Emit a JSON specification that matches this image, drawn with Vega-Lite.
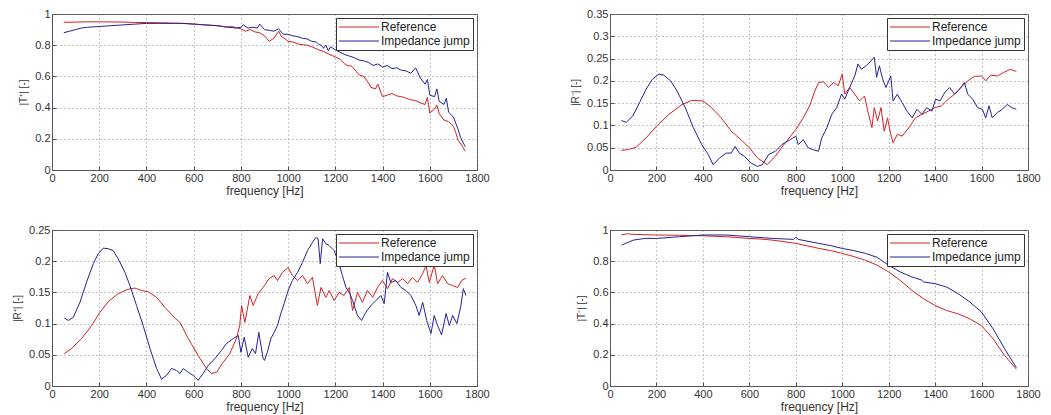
{
  "$schema": "https://vega.github.io/schema/vega-lite/v6.json",
  "background": "white",
  "padding": {"left": 12, "top": 7, "right": 5, "bottom": 5},
  "bounds": "flush",
  "columns": 2,
  "spacing": {"row": 60, "column": 133},
  "resolve": {"scale": {"color": "independent", "y": "independent", "x": "independent"}, "legend": {"color": "independent"}, "axis": {"x": "independent", "y": "independent"}},
  "datasets": {
    "tl": [
      {"f":50,"v":0.947,"s":"Reference"},{"f":100,"v":0.948,"s":"Reference"},{"f":150,"v":0.95,"s":"Reference"},{"f":200,"v":0.95,"s":"Reference"},{"f":250,"v":0.949,"s":"Reference"},{"f":300,"v":0.948,"s":"Reference"},{"f":350,"v":0.946,"s":"Reference"},{"f":400,"v":0.945,"s":"Reference"},{"f":450,"v":0.944,"s":"Reference"},{"f":500,"v":0.942,"s":"Reference"},{"f":550,"v":0.94,"s":"Reference"},{"f":600,"v":0.936,"s":"Reference"},{"f":650,"v":0.93,"s":"Reference"},{"f":700,"v":0.925,"s":"Reference"},{"f":740,"v":0.915,"s":"Reference"},{"f":760,"v":0.92,"s":"Reference"},{"f":800,"v":0.905,"s":"Reference"},{"f":820,"v":0.89,"s":"Reference"},{"f":840,"v":0.9,"s":"Reference"},{"f":860,"v":0.885,"s":"Reference"},{"f":880,"v":0.88,"s":"Reference"},{"f":900,"v":0.86,"s":"Reference"},{"f":920,"v":0.825,"s":"Reference"},{"f":940,"v":0.845,"s":"Reference"},{"f":960,"v":0.89,"s":"Reference"},{"f":970,"v":0.86,"s":"Reference"},{"f":1000,"v":0.825,"s":"Reference"},{"f":1020,"v":0.82,"s":"Reference"},{"f":1050,"v":0.805,"s":"Reference"},{"f":1080,"v":0.8,"s":"Reference"},{"f":1100,"v":0.79,"s":"Reference"},{"f":1130,"v":0.77,"s":"Reference"},{"f":1150,"v":0.76,"s":"Reference"},{"f":1170,"v":0.745,"s":"Reference"},{"f":1200,"v":0.725,"s":"Reference"},{"f":1220,"v":0.71,"s":"Reference"},{"f":1240,"v":0.68,"s":"Reference"},{"f":1250,"v":0.67,"s":"Reference"},{"f":1270,"v":0.665,"s":"Reference"},{"f":1290,"v":0.63,"s":"Reference"},{"f":1300,"v":0.61,"s":"Reference"},{"f":1320,"v":0.6,"s":"Reference"},{"f":1340,"v":0.56,"s":"Reference"},{"f":1350,"v":0.53,"s":"Reference"},{"f":1370,"v":0.52,"s":"Reference"},{"f":1380,"v":0.55,"s":"Reference"},{"f":1400,"v":0.47,"s":"Reference"},{"f":1420,"v":0.48,"s":"Reference"},{"f":1440,"v":0.49,"s":"Reference"},{"f":1460,"v":0.475,"s":"Reference"},{"f":1480,"v":0.47,"s":"Reference"},{"f":1500,"v":0.46,"s":"Reference"},{"f":1520,"v":0.45,"s":"Reference"},{"f":1540,"v":0.445,"s":"Reference"},{"f":1560,"v":0.43,"s":"Reference"},{"f":1580,"v":0.42,"s":"Reference"},{"f":1590,"v":0.465,"s":"Reference"},{"f":1600,"v":0.365,"s":"Reference"},{"f":1620,"v":0.39,"s":"Reference"},{"f":1630,"v":0.415,"s":"Reference"},{"f":1640,"v":0.36,"s":"Reference"},{"f":1660,"v":0.32,"s":"Reference"},{"f":1680,"v":0.31,"s":"Reference"},{"f":1700,"v":0.28,"s":"Reference"},{"f":1710,"v":0.24,"s":"Reference"},{"f":1720,"v":0.19,"s":"Reference"},{"f":1735,"v":0.16,"s":"Reference"},{"f":1750,"v":0.12,"s":"Reference"},
      {"f":50,"v":0.88,"s":"Impedance jump"},{"f":75,"v":0.89,"s":"Impedance jump"},{"f":100,"v":0.9,"s":"Impedance jump"},{"f":125,"v":0.91,"s":"Impedance jump"},{"f":150,"v":0.915,"s":"Impedance jump"},{"f":200,"v":0.92,"s":"Impedance jump"},{"f":250,"v":0.925,"s":"Impedance jump"},{"f":300,"v":0.93,"s":"Impedance jump"},{"f":350,"v":0.935,"s":"Impedance jump"},{"f":400,"v":0.94,"s":"Impedance jump"},{"f":450,"v":0.94,"s":"Impedance jump"},{"f":500,"v":0.94,"s":"Impedance jump"},{"f":550,"v":0.94,"s":"Impedance jump"},{"f":600,"v":0.935,"s":"Impedance jump"},{"f":650,"v":0.93,"s":"Impedance jump"},{"f":700,"v":0.925,"s":"Impedance jump"},{"f":750,"v":0.915,"s":"Impedance jump"},{"f":780,"v":0.91,"s":"Impedance jump"},{"f":800,"v":0.915,"s":"Impedance jump"},{"f":810,"v":0.93,"s":"Impedance jump"},{"f":830,"v":0.91,"s":"Impedance jump"},{"f":850,"v":0.915,"s":"Impedance jump"},{"f":870,"v":0.91,"s":"Impedance jump"},{"f":880,"v":0.935,"s":"Impedance jump"},{"f":900,"v":0.9,"s":"Impedance jump"},{"f":920,"v":0.895,"s":"Impedance jump"},{"f":940,"v":0.89,"s":"Impedance jump"},{"f":960,"v":0.905,"s":"Impedance jump"},{"f":980,"v":0.87,"s":"Impedance jump"},{"f":1000,"v":0.87,"s":"Impedance jump"},{"f":1020,"v":0.86,"s":"Impedance jump"},{"f":1040,"v":0.855,"s":"Impedance jump"},{"f":1060,"v":0.845,"s":"Impedance jump"},{"f":1080,"v":0.84,"s":"Impedance jump"},{"f":1100,"v":0.825,"s":"Impedance jump"},{"f":1120,"v":0.82,"s":"Impedance jump"},{"f":1130,"v":0.805,"s":"Impedance jump"},{"f":1140,"v":0.8,"s":"Impedance jump"},{"f":1150,"v":0.78,"s":"Impedance jump"},{"f":1160,"v":0.8,"s":"Impedance jump"},{"f":1170,"v":0.765,"s":"Impedance jump"},{"f":1180,"v":0.79,"s":"Impedance jump"},{"f":1200,"v":0.77,"s":"Impedance jump"},{"f":1220,"v":0.755,"s":"Impedance jump"},{"f":1240,"v":0.74,"s":"Impedance jump"},{"f":1260,"v":0.73,"s":"Impedance jump"},{"f":1280,"v":0.72,"s":"Impedance jump"},{"f":1300,"v":0.705,"s":"Impedance jump"},{"f":1320,"v":0.7,"s":"Impedance jump"},{"f":1340,"v":0.69,"s":"Impedance jump"},{"f":1360,"v":0.67,"s":"Impedance jump"},{"f":1380,"v":0.68,"s":"Impedance jump"},{"f":1400,"v":0.66,"s":"Impedance jump"},{"f":1420,"v":0.67,"s":"Impedance jump"},{"f":1440,"v":0.65,"s":"Impedance jump"},{"f":1460,"v":0.655,"s":"Impedance jump"},{"f":1480,"v":0.64,"s":"Impedance jump"},{"f":1500,"v":0.635,"s":"Impedance jump"},{"f":1520,"v":0.62,"s":"Impedance jump"},{"f":1540,"v":0.655,"s":"Impedance jump"},{"f":1560,"v":0.59,"s":"Impedance jump"},{"f":1580,"v":0.55,"s":"Impedance jump"},{"f":1590,"v":0.58,"s":"Impedance jump"},{"f":1600,"v":0.48,"s":"Impedance jump"},{"f":1620,"v":0.47,"s":"Impedance jump"},{"f":1630,"v":0.52,"s":"Impedance jump"},{"f":1640,"v":0.44,"s":"Impedance jump"},{"f":1660,"v":0.42,"s":"Impedance jump"},{"f":1670,"v":0.46,"s":"Impedance jump"},{"f":1680,"v":0.37,"s":"Impedance jump"},{"f":1700,"v":0.34,"s":"Impedance jump"},{"f":1720,"v":0.26,"s":"Impedance jump"},{"f":1730,"v":0.21,"s":"Impedance jump"},{"f":1750,"v":0.15,"s":"Impedance jump"}
    ],
    "tr": [
      {"f":49,"v":0.044,"s":"Reference"},{"f":80,"v":0.046,"s":"Reference"},{"f":112,"v":0.051,"s":"Reference"},{"f":155,"v":0.072,"s":"Reference"},{"f":200,"v":0.098,"s":"Reference"},{"f":254,"v":0.125,"s":"Reference"},{"f":310,"v":0.147,"s":"Reference"},{"f":352,"v":0.156,"s":"Reference"},{"f":400,"v":0.155,"s":"Reference"},{"f":437,"v":0.14,"s":"Reference"},{"f":479,"v":0.117,"s":"Reference"},{"f":522,"v":0.087,"s":"Reference"},{"f":564,"v":0.068,"s":"Reference"},{"f":600,"v":0.05,"s":"Reference"},{"f":635,"v":0.027,"s":"Reference"},{"f":677,"v":0.012,"s":"Reference"},{"f":712,"v":0.031,"s":"Reference"},{"f":755,"v":0.061,"s":"Reference"},{"f":800,"v":0.091,"s":"Reference"},{"f":832,"v":0.117,"s":"Reference"},{"f":860,"v":0.144,"s":"Reference"},{"f":882,"v":0.177,"s":"Reference"},{"f":898,"v":0.196,"s":"Reference"},{"f":920,"v":0.198,"s":"Reference"},{"f":941,"v":0.185,"s":"Reference"},{"f":962,"v":0.196,"s":"Reference"},{"f":983,"v":0.189,"s":"Reference"},{"f":1000,"v":0.215,"s":"Reference"},{"f":1011,"v":0.17,"s":"Reference"},{"f":1032,"v":0.185,"s":"Reference"},{"f":1054,"v":0.17,"s":"Reference"},{"f":1075,"v":0.155,"s":"Reference"},{"f":1096,"v":0.166,"s":"Reference"},{"f":1110,"v":0.132,"s":"Reference"},{"f":1128,"v":0.095,"s":"Reference"},{"f":1138,"v":0.14,"s":"Reference"},{"f":1152,"v":0.11,"s":"Reference"},{"f":1167,"v":0.14,"s":"Reference"},{"f":1181,"v":0.087,"s":"Reference"},{"f":1195,"v":0.117,"s":"Reference"},{"f":1209,"v":0.08,"s":"Reference"},{"f":1219,"v":0.061,"s":"Reference"},{"f":1237,"v":0.08,"s":"Reference"},{"f":1258,"v":0.076,"s":"Reference"},{"f":1287,"v":0.095,"s":"Reference"},{"f":1315,"v":0.117,"s":"Reference"},{"f":1343,"v":0.125,"s":"Reference"},{"f":1371,"v":0.132,"s":"Reference"},{"f":1400,"v":0.14,"s":"Reference"},{"f":1428,"v":0.144,"s":"Reference"},{"f":1456,"v":0.159,"s":"Reference"},{"f":1484,"v":0.17,"s":"Reference"},{"f":1512,"v":0.186,"s":"Reference"},{"f":1541,"v":0.2,"s":"Reference"},{"f":1569,"v":0.21,"s":"Reference"},{"f":1600,"v":0.211,"s":"Reference"},{"f":1618,"v":0.2,"s":"Reference"},{"f":1639,"v":0.213,"s":"Reference"},{"f":1668,"v":0.211,"s":"Reference"},{"f":1696,"v":0.219,"s":"Reference"},{"f":1724,"v":0.226,"s":"Reference"},{"f":1750,"v":0.221,"s":"Reference"},
      {"f":49,"v":0.111,"s":"Impedance jump"},{"f":70,"v":0.107,"s":"Impedance jump"},{"f":98,"v":0.121,"s":"Impedance jump"},{"f":127,"v":0.151,"s":"Impedance jump"},{"f":155,"v":0.181,"s":"Impedance jump"},{"f":183,"v":0.204,"s":"Impedance jump"},{"f":211,"v":0.215,"s":"Impedance jump"},{"f":232,"v":0.213,"s":"Impedance jump"},{"f":261,"v":0.2,"s":"Impedance jump"},{"f":289,"v":0.177,"s":"Impedance jump"},{"f":324,"v":0.14,"s":"Impedance jump"},{"f":359,"v":0.095,"s":"Impedance jump"},{"f":395,"v":0.057,"s":"Impedance jump"},{"f":423,"v":0.035,"s":"Impedance jump"},{"f":444,"v":0.012,"s":"Impedance jump"},{"f":472,"v":0.027,"s":"Impedance jump"},{"f":501,"v":0.038,"s":"Impedance jump"},{"f":522,"v":0.038,"s":"Impedance jump"},{"f":539,"v":0.053,"s":"Impedance jump"},{"f":557,"v":0.038,"s":"Impedance jump"},{"f":578,"v":0.031,"s":"Impedance jump"},{"f":606,"v":0.016,"s":"Impedance jump"},{"f":635,"v":0.008,"s":"Impedance jump"},{"f":656,"v":0.012,"s":"Impedance jump"},{"f":684,"v":0.035,"s":"Impedance jump"},{"f":712,"v":0.042,"s":"Impedance jump"},{"f":740,"v":0.057,"s":"Impedance jump"},{"f":776,"v":0.068,"s":"Impedance jump"},{"f":800,"v":0.076,"s":"Impedance jump"},{"f":811,"v":0.057,"s":"Impedance jump"},{"f":832,"v":0.068,"s":"Impedance jump"},{"f":853,"v":0.05,"s":"Impedance jump"},{"f":877,"v":0.045,"s":"Impedance jump"},{"f":898,"v":0.042,"s":"Impedance jump"},{"f":912,"v":0.072,"s":"Impedance jump"},{"f":934,"v":0.095,"s":"Impedance jump"},{"f":955,"v":0.125,"s":"Impedance jump"},{"f":976,"v":0.14,"s":"Impedance jump"},{"f":997,"v":0.17,"s":"Impedance jump"},{"f":1011,"v":0.159,"s":"Impedance jump"},{"f":1032,"v":0.185,"s":"Impedance jump"},{"f":1054,"v":0.211,"s":"Impedance jump"},{"f":1068,"v":0.238,"s":"Impedance jump"},{"f":1082,"v":0.226,"s":"Impedance jump"},{"f":1103,"v":0.234,"s":"Impedance jump"},{"f":1124,"v":0.245,"s":"Impedance jump"},{"f":1138,"v":0.253,"s":"Impedance jump"},{"f":1148,"v":0.208,"s":"Impedance jump"},{"f":1160,"v":0.234,"s":"Impedance jump"},{"f":1174,"v":0.204,"s":"Impedance jump"},{"f":1188,"v":0.185,"s":"Impedance jump"},{"f":1209,"v":0.211,"s":"Impedance jump"},{"f":1219,"v":0.155,"s":"Impedance jump"},{"f":1237,"v":0.17,"s":"Impedance jump"},{"f":1258,"v":0.151,"s":"Impedance jump"},{"f":1279,"v":0.132,"s":"Impedance jump"},{"f":1301,"v":0.117,"s":"Impedance jump"},{"f":1322,"v":0.136,"s":"Impedance jump"},{"f":1343,"v":0.125,"s":"Impedance jump"},{"f":1364,"v":0.14,"s":"Impedance jump"},{"f":1386,"v":0.132,"s":"Impedance jump"},{"f":1402,"v":0.159,"s":"Impedance jump"},{"f":1421,"v":0.155,"s":"Impedance jump"},{"f":1442,"v":0.174,"s":"Impedance jump"},{"f":1463,"v":0.185,"s":"Impedance jump"},{"f":1484,"v":0.17,"s":"Impedance jump"},{"f":1505,"v":0.181,"s":"Impedance jump"},{"f":1526,"v":0.196,"s":"Impedance jump"},{"f":1541,"v":0.17,"s":"Impedance jump"},{"f":1562,"v":0.159,"s":"Impedance jump"},{"f":1583,"v":0.14,"s":"Impedance jump"},{"f":1604,"v":0.136,"s":"Impedance jump"},{"f":1618,"v":0.117,"s":"Impedance jump"},{"f":1632,"v":0.144,"s":"Impedance jump"},{"f":1646,"v":0.117,"s":"Impedance jump"},{"f":1668,"v":0.129,"s":"Impedance jump"},{"f":1689,"v":0.136,"s":"Impedance jump"},{"f":1710,"v":0.147,"s":"Impedance jump"},{"f":1731,"v":0.14,"s":"Impedance jump"},{"f":1750,"v":0.136,"s":"Impedance jump"}
    ],
    "bl": [
      {"f":52,"v":0.052,"s":"Reference"},{"f":83,"v":0.06,"s":"Reference"},{"f":125,"v":0.076,"s":"Reference"},{"f":168,"v":0.097,"s":"Reference"},{"f":203,"v":0.118,"s":"Reference"},{"f":238,"v":0.135,"s":"Reference"},{"f":280,"v":0.148,"s":"Reference"},{"f":323,"v":0.155,"s":"Reference"},{"f":351,"v":0.157,"s":"Reference"},{"f":379,"v":0.153,"s":"Reference"},{"f":407,"v":0.151,"s":"Reference"},{"f":443,"v":0.142,"s":"Reference"},{"f":478,"v":0.126,"s":"Reference"},{"f":520,"v":0.109,"s":"Reference"},{"f":542,"v":0.102,"s":"Reference"},{"f":577,"v":0.076,"s":"Reference"},{"f":619,"v":0.049,"s":"Reference"},{"f":654,"v":0.028,"s":"Reference"},{"f":676,"v":0.02,"s":"Reference"},{"f":697,"v":0.022,"s":"Reference"},{"f":725,"v":0.038,"s":"Reference"},{"f":753,"v":0.052,"s":"Reference"},{"f":781,"v":0.076,"s":"Reference"},{"f":795,"v":0.097,"s":"Reference"},{"f":803,"v":0.129,"s":"Reference"},{"f":817,"v":0.102,"s":"Reference"},{"f":838,"v":0.145,"s":"Reference"},{"f":852,"v":0.129,"s":"Reference"},{"f":873,"v":0.148,"s":"Reference"},{"f":894,"v":0.158,"s":"Reference"},{"f":919,"v":0.172,"s":"Reference"},{"f":941,"v":0.177,"s":"Reference"},{"f":955,"v":0.169,"s":"Reference"},{"f":976,"v":0.182,"s":"Reference"},{"f":1000,"v":0.19,"s":"Reference"},{"f":1018,"v":0.177,"s":"Reference"},{"f":1040,"v":0.169,"s":"Reference"},{"f":1061,"v":0.177,"s":"Reference"},{"f":1082,"v":0.164,"s":"Reference"},{"f":1103,"v":0.174,"s":"Reference"},{"f":1124,"v":0.129,"s":"Reference"},{"f":1139,"v":0.158,"s":"Reference"},{"f":1160,"v":0.142,"s":"Reference"},{"f":1174,"v":0.153,"s":"Reference"},{"f":1195,"v":0.137,"s":"Reference"},{"f":1216,"v":0.15,"s":"Reference"},{"f":1237,"v":0.145,"s":"Reference"},{"f":1259,"v":0.158,"s":"Reference"},{"f":1273,"v":0.121,"s":"Reference"},{"f":1294,"v":0.15,"s":"Reference"},{"f":1315,"v":0.134,"s":"Reference"},{"f":1336,"v":0.153,"s":"Reference"},{"f":1358,"v":0.142,"s":"Reference"},{"f":1379,"v":0.158,"s":"Reference"},{"f":1400,"v":0.169,"s":"Reference"},{"f":1421,"v":0.156,"s":"Reference"},{"f":1442,"v":0.172,"s":"Reference"},{"f":1464,"v":0.166,"s":"Reference"},{"f":1485,"v":0.172,"s":"Reference"},{"f":1506,"v":0.164,"s":"Reference"},{"f":1527,"v":0.174,"s":"Reference"},{"f":1548,"v":0.166,"s":"Reference"},{"f":1570,"v":0.18,"s":"Reference"},{"f":1584,"v":0.193,"s":"Reference"},{"f":1598,"v":0.166,"s":"Reference"},{"f":1619,"v":0.194,"s":"Reference"},{"f":1633,"v":0.164,"s":"Reference"},{"f":1654,"v":0.177,"s":"Reference"},{"f":1676,"v":0.164,"s":"Reference"},{"f":1697,"v":0.161,"s":"Reference"},{"f":1718,"v":0.158,"s":"Reference"},{"f":1735,"v":0.169,"s":"Reference"},{"f":1753,"v":0.173,"s":"Reference"},
      {"f":52,"v":0.109,"s":"Impedance jump"},{"f":69,"v":0.105,"s":"Impedance jump"},{"f":90,"v":0.11,"s":"Impedance jump"},{"f":118,"v":0.134,"s":"Impedance jump"},{"f":146,"v":0.166,"s":"Impedance jump"},{"f":175,"v":0.196,"s":"Impedance jump"},{"f":196,"v":0.212,"s":"Impedance jump"},{"f":217,"v":0.221,"s":"Impedance jump"},{"f":238,"v":0.22,"s":"Impedance jump"},{"f":259,"v":0.217,"s":"Impedance jump"},{"f":280,"v":0.204,"s":"Impedance jump"},{"f":309,"v":0.182,"s":"Impedance jump"},{"f":330,"v":0.161,"s":"Impedance jump"},{"f":358,"v":0.129,"s":"Impedance jump"},{"f":386,"v":0.097,"s":"Impedance jump"},{"f":415,"v":0.06,"s":"Impedance jump"},{"f":443,"v":0.028,"s":"Impedance jump"},{"f":464,"v":0.011,"s":"Impedance jump"},{"f":485,"v":0.017,"s":"Impedance jump"},{"f":506,"v":0.028,"s":"Impedance jump"},{"f":527,"v":0.025,"s":"Impedance jump"},{"f":542,"v":0.02,"s":"Impedance jump"},{"f":556,"v":0.028,"s":"Impedance jump"},{"f":577,"v":0.022,"s":"Impedance jump"},{"f":598,"v":0.017,"s":"Impedance jump"},{"f":619,"v":0.009,"s":"Impedance jump"},{"f":640,"v":0.02,"s":"Impedance jump"},{"f":662,"v":0.033,"s":"Impedance jump"},{"f":690,"v":0.044,"s":"Impedance jump"},{"f":718,"v":0.057,"s":"Impedance jump"},{"f":739,"v":0.068,"s":"Impedance jump"},{"f":767,"v":0.076,"s":"Impedance jump"},{"f":789,"v":0.081,"s":"Impedance jump"},{"f":800,"v":0.054,"s":"Impedance jump"},{"f":814,"v":0.078,"s":"Impedance jump"},{"f":831,"v":0.046,"s":"Impedance jump"},{"f":848,"v":0.06,"s":"Impedance jump"},{"f":862,"v":0.052,"s":"Impedance jump"},{"f":876,"v":0.086,"s":"Impedance jump"},{"f":894,"v":0.044,"s":"Impedance jump"},{"f":900,"v":0.041,"s":"Impedance jump"},{"f":912,"v":0.054,"s":"Impedance jump"},{"f":927,"v":0.076,"s":"Impedance jump"},{"f":941,"v":0.086,"s":"Impedance jump"},{"f":955,"v":0.097,"s":"Impedance jump"},{"f":969,"v":0.116,"s":"Impedance jump"},{"f":983,"v":0.132,"s":"Impedance jump"},{"f":1000,"v":0.153,"s":"Impedance jump"},{"f":1018,"v":0.169,"s":"Impedance jump"},{"f":1040,"v":0.182,"s":"Impedance jump"},{"f":1061,"v":0.198,"s":"Impedance jump"},{"f":1082,"v":0.217,"s":"Impedance jump"},{"f":1103,"v":0.23,"s":"Impedance jump"},{"f":1117,"v":0.238,"s":"Impedance jump"},{"f":1127,"v":0.236,"s":"Impedance jump"},{"f":1136,"v":0.196,"s":"Impedance jump"},{"f":1146,"v":0.236,"s":"Impedance jump"},{"f":1160,"v":0.228,"s":"Impedance jump"},{"f":1174,"v":0.225,"s":"Impedance jump"},{"f":1195,"v":0.217,"s":"Impedance jump"},{"f":1216,"v":0.196,"s":"Impedance jump"},{"f":1230,"v":0.177,"s":"Impedance jump"},{"f":1245,"v":0.158,"s":"Impedance jump"},{"f":1259,"v":0.15,"s":"Impedance jump"},{"f":1273,"v":0.137,"s":"Impedance jump"},{"f":1294,"v":0.113,"s":"Impedance jump"},{"f":1311,"v":0.105,"s":"Impedance jump"},{"f":1329,"v":0.118,"s":"Impedance jump"},{"f":1351,"v":0.129,"s":"Impedance jump"},{"f":1372,"v":0.137,"s":"Impedance jump"},{"f":1393,"v":0.145,"s":"Impedance jump"},{"f":1407,"v":0.132,"s":"Impedance jump"},{"f":1421,"v":0.182,"s":"Impedance jump"},{"f":1435,"v":0.166,"s":"Impedance jump"},{"f":1456,"v":0.169,"s":"Impedance jump"},{"f":1478,"v":0.158,"s":"Impedance jump"},{"f":1499,"v":0.153,"s":"Impedance jump"},{"f":1520,"v":0.145,"s":"Impedance jump"},{"f":1541,"v":0.129,"s":"Impedance jump"},{"f":1555,"v":0.113,"s":"Impedance jump"},{"f":1570,"v":0.134,"s":"Impedance jump"},{"f":1587,"v":0.105,"s":"Impedance jump"},{"f":1605,"v":0.084,"s":"Impedance jump"},{"f":1619,"v":0.113,"s":"Impedance jump"},{"f":1633,"v":0.097,"s":"Impedance jump"},{"f":1650,"v":0.082,"s":"Impedance jump"},{"f":1669,"v":0.116,"s":"Impedance jump"},{"f":1683,"v":0.097,"s":"Impedance jump"},{"f":1697,"v":0.113,"s":"Impedance jump"},{"f":1715,"v":0.1,"s":"Impedance jump"},{"f":1732,"v":0.129,"s":"Impedance jump"},{"f":1742,"v":0.156,"s":"Impedance jump"},{"f":1753,"v":0.145,"s":"Impedance jump"}
    ],
    "br": [
      {"f":48,"v":0.968,"s":"Reference"},{"f":75,"v":0.976,"s":"Reference"},{"f":100,"v":0.972,"s":"Reference"},{"f":200,"v":0.968,"s":"Reference"},{"f":300,"v":0.966,"s":"Reference"},{"f":400,"v":0.963,"s":"Reference"},{"f":500,"v":0.957,"s":"Reference"},{"f":600,"v":0.946,"s":"Reference"},{"f":650,"v":0.942,"s":"Reference"},{"f":700,"v":0.935,"s":"Reference"},{"f":750,"v":0.925,"s":"Reference"},{"f":800,"v":0.914,"s":"Reference"},{"f":850,"v":0.898,"s":"Reference"},{"f":900,"v":0.882,"s":"Reference"},{"f":950,"v":0.868,"s":"Reference"},{"f":1000,"v":0.85,"s":"Reference"},{"f":1050,"v":0.83,"s":"Reference"},{"f":1100,"v":0.806,"s":"Reference"},{"f":1150,"v":0.775,"s":"Reference"},{"f":1200,"v":0.731,"s":"Reference"},{"f":1250,"v":0.677,"s":"Reference"},{"f":1300,"v":0.613,"s":"Reference"},{"f":1350,"v":0.559,"s":"Reference"},{"f":1400,"v":0.516,"s":"Reference"},{"f":1450,"v":0.484,"s":"Reference"},{"f":1500,"v":0.462,"s":"Reference"},{"f":1550,"v":0.43,"s":"Reference"},{"f":1600,"v":0.387,"s":"Reference"},{"f":1650,"v":0.301,"s":"Reference"},{"f":1700,"v":0.194,"s":"Reference"},{"f":1750,"v":0.108,"s":"Reference"},
      {"f":50,"v":0.903,"s":"Impedance jump"},{"f":100,"v":0.935,"s":"Impedance jump"},{"f":150,"v":0.946,"s":"Impedance jump"},{"f":200,"v":0.946,"s":"Impedance jump"},{"f":300,"v":0.957,"s":"Impedance jump"},{"f":400,"v":0.968,"s":"Impedance jump"},{"f":500,"v":0.968,"s":"Impedance jump"},{"f":600,"v":0.957,"s":"Impedance jump"},{"f":700,"v":0.946,"s":"Impedance jump"},{"f":790,"v":0.94,"s":"Impedance jump"},{"f":800,"v":0.955,"s":"Impedance jump"},{"f":810,"v":0.94,"s":"Impedance jump"},{"f":900,"v":0.914,"s":"Impedance jump"},{"f":950,"v":0.9,"s":"Impedance jump"},{"f":1000,"v":0.882,"s":"Impedance jump"},{"f":1050,"v":0.868,"s":"Impedance jump"},{"f":1100,"v":0.85,"s":"Impedance jump"},{"f":1150,"v":0.825,"s":"Impedance jump"},{"f":1200,"v":0.774,"s":"Impedance jump"},{"f":1250,"v":0.731,"s":"Impedance jump"},{"f":1300,"v":0.699,"s":"Impedance jump"},{"f":1340,"v":0.68,"s":"Impedance jump"},{"f":1350,"v":0.667,"s":"Impedance jump"},{"f":1400,"v":0.656,"s":"Impedance jump"},{"f":1450,"v":0.634,"s":"Impedance jump"},{"f":1500,"v":0.591,"s":"Impedance jump"},{"f":1550,"v":0.538,"s":"Impedance jump"},{"f":1600,"v":0.473,"s":"Impedance jump"},{"f":1650,"v":0.366,"s":"Impedance jump"},{"f":1700,"v":0.237,"s":"Impedance jump"},{"f":1750,"v":0.118,"s":"Impedance jump"}
    ]
  },
  "concat": [
    {
      "width": 425, "height": 156,
      "data": {"name": "tl"},
      "mark": {"type": "line", "strokeWidth": 1},
      "encoding": {
        "x": {"field": "f", "type": "quantitative", "scale": {"domain": [0, 1800], "nice": false}, "axis": {"title": "frequency [Hz]", "values": [0,200,400,600,800,1000,1200,1400,1600,1800]}},
        "y": {"field": "v", "type": "quantitative", "scale": {"domain": [0, 1], "nice": false}, "axis": {"title": "|T⁺| [-]", "values": [0,0.2,0.4,0.6,0.8,1]}},
        "color": {"field": "s", "type": "nominal", "scale": {"domain": ["Reference", "Impedance jump"], "range": ["#d42222", "#22229a"]}, "legend": {"title": null}}
      }
    },
    {
      "width": 418, "height": 156,
      "data": {"name": "tr"},
      "mark": {"type": "line", "strokeWidth": 1},
      "encoding": {
        "x": {"field": "f", "type": "quantitative", "scale": {"domain": [0, 1800], "nice": false}, "axis": {"title": "frequency [Hz]", "values": [0,200,400,600,800,1000,1200,1400,1600,1800]}},
        "y": {"field": "v", "type": "quantitative", "scale": {"domain": [0, 0.35], "nice": false}, "axis": {"title": "|R⁻| [-]", "values": [0,0.05,0.1,0.15,0.2,0.25,0.3,0.35]}},
        "color": {"field": "s", "type": "nominal", "scale": {"domain": ["Reference", "Impedance jump"], "range": ["#d42222", "#22229a"]}, "legend": {"title": null}}
      }
    },
    {
      "width": 425, "height": 156,
      "data": {"name": "bl"},
      "mark": {"type": "line", "strokeWidth": 1},
      "encoding": {
        "x": {"field": "f", "type": "quantitative", "scale": {"domain": [0, 1800], "nice": false}, "axis": {"title": "frequency [Hz]", "values": [0,200,400,600,800,1000,1200,1400,1600,1800]}},
        "y": {"field": "v", "type": "quantitative", "scale": {"domain": [0, 0.25], "nice": false}, "axis": {"title": "|R⁺| [-]", "values": [0,0.05,0.1,0.15,0.2,0.25]}},
        "color": {"field": "s", "type": "nominal", "scale": {"domain": ["Reference", "Impedance jump"], "range": ["#d42222", "#22229a"]}, "legend": {"title": null}}
      }
    },
    {
      "width": 418, "height": 156,
      "data": {"name": "br"},
      "mark": {"type": "line", "strokeWidth": 1},
      "encoding": {
        "x": {"field": "f", "type": "quantitative", "scale": {"domain": [0, 1800], "nice": false}, "axis": {"title": "frequency [Hz]", "values": [0,200,400,600,800,1000,1200,1400,1600,1800]}},
        "y": {"field": "v", "type": "quantitative", "scale": {"domain": [0, 1], "nice": false}, "axis": {"title": "|T⁻| [-]", "values": [0,0.2,0.4,0.6,0.8,1]}},
        "color": {"field": "s", "type": "nominal", "scale": {"domain": ["Reference", "Impedance jump"], "range": ["#d42222", "#22229a"]}, "legend": {"title": null}}
      }
    }
  ],
  "config": {
    "font": "Liberation Sans",
    "view": {"stroke": "#555555", "strokeWidth": 1},
    "axis": {
      "grid": true, "gridDash": [1, 3], "gridColor": "#888888", "gridOpacity": 1,
      "domainColor": "#555555", "tickColor": "#555555", "ticks": true, "tickSize": -4,
      "labelFont": "Liberation Sans", "labelFontSize": 11, "labelColor": "#333333", "labelPadding": 6,
      "titleFont": "Liberation Sans", "titleFontSize": 10, "titleFontWeight": "normal", "titleColor": "#333333",
      "format": ".2~f", "labelFlush": false, "labelOverlap": false
    },
    "axisX": {"titlePadding": 2, "titleFontSize": 12},
    "axisY": {"titlePadding": 6},
    "legend": {
      "orient": "top-right", "offset": 4, "symbolType": "M-4,0H4", "symbolSize": 100, "symbolStrokeWidth": 1,
      "symbolOffset": 14, "labelOffset": 16,
      "labelFont": "Liberation Sans", "labelFontSize": 12, "labelColor": "#222222",
      "fillColor": "white", "strokeColor": "#333333", "padding": 3, "rowPadding": 2
    }
  }
}
